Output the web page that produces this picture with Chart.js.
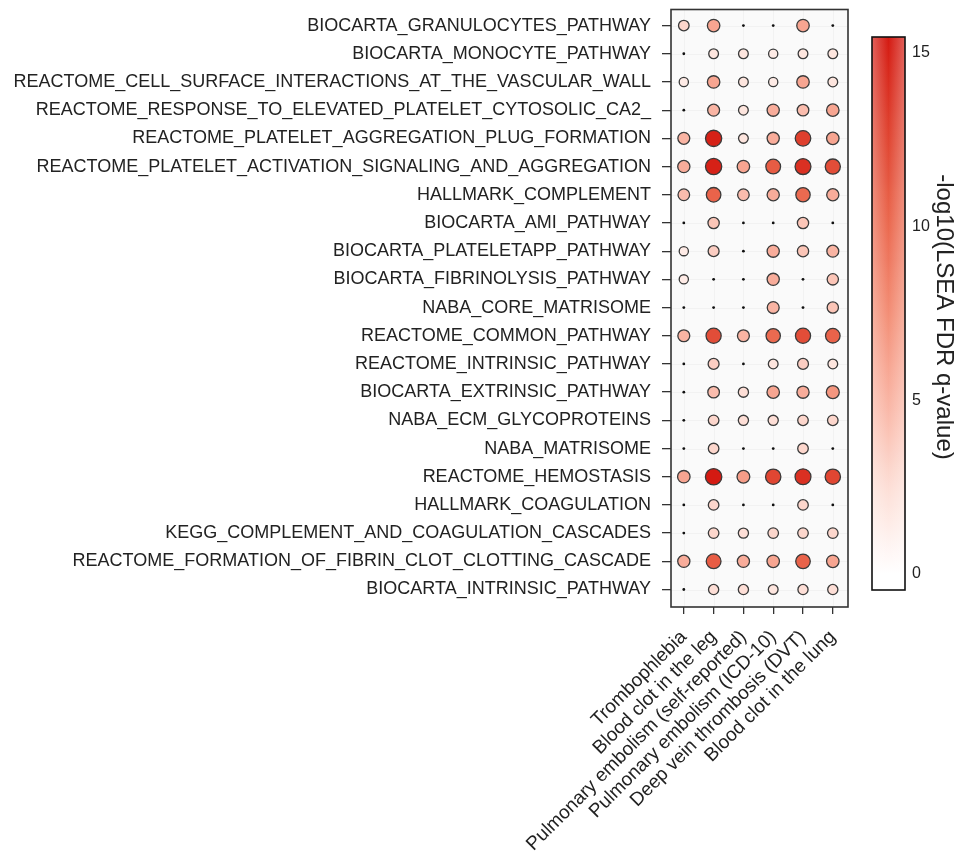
<!DOCTYPE html>
<html>
<head>
<meta charset="utf-8">
<script src="https://cdn.jsdelivr.net/npm/chart.js@4"></script>
<style>
  html, body { margin: 0; padding: 0; background: #fff; }
  #wrap { width: 963px; height: 858px; position: relative; }
</style>
</head>
<body>
<div id="wrap"><canvas id="dotChart"></canvas></div>
<script>
const pathways = [
  "BIOCARTA_GRANULOCYTES_PATHWAY",
  "BIOCARTA_MONOCYTE_PATHWAY",
  "REACTOME_CELL_SURFACE_INTERACTIONS_AT_THE_VASCULAR_WALL",
  "REACTOME_RESPONSE_TO_ELEVATED_PLATELET_CYTOSOLIC_CA2_",
  "REACTOME_PLATELET_AGGREGATION_PLUG_FORMATION",
  "REACTOME_PLATELET_ACTIVATION_SIGNALING_AND_AGGREGATION",
  "HALLMARK_COMPLEMENT",
  "BIOCARTA_AMI_PATHWAY",
  "BIOCARTA_PLATELETAPP_PATHWAY",
  "BIOCARTA_FIBRINOLYSIS_PATHWAY",
  "NABA_CORE_MATRISOME",
  "REACTOME_COMMON_PATHWAY",
  "REACTOME_INTRINSIC_PATHWAY",
  "BIOCARTA_EXTRINSIC_PATHWAY",
  "NABA_ECM_GLYCOPROTEINS",
  "NABA_MATRISOME",
  "REACTOME_HEMOSTASIS",
  "HALLMARK_COAGULATION",
  "KEGG_COMPLEMENT_AND_COAGULATION_CASCADES",
  "REACTOME_FORMATION_OF_FIBRIN_CLOT_CLOTTING_CASCADE",
  "BIOCARTA_INTRINSIC_PATHWAY"
];

const traits = [
  "Trombophlebia",
  "Blood clot in the leg",
  "Pulmonary embolism (self-reported)",
  "Pulmonary embolism (ICD-10)",
  "Deep vein thrombosis (DVT)",
  "Blood clot in the lung"
];

// -log10(LSEA FDR q-value), one array per trait, in pathway order
const trombophlebia = [3, 0, 1.5, 0, 5, 5.5, 4.5, 0, 1.5, 1.5, 0, 5, 0, 0, 0, 0, 6, 0, 0, 5.5, 0];
const clotLeg       = [6, 2, 6, 5, 15, 15, 10.5, 4, 3.5, 0, 0, 12, 3.5, 4.5, 3, 3, 15.5, 3, 3, 11, 2.5];
const peSelf        = [0, 2, 2, 2, 2, 6, 4.5, 0, 0, 0, 0, 5, 0, 2.5, 2.5, 0, 6.5, 0, 2.5, 5.5, 2.5];
const peIcd         = [0, 1.5, 1.5, 5.5, 5.5, 11, 5.5, 0, 5.5, 5.5, 5, 10, 2, 6, 2.5, 0, 12.5, 0, 3, 6, 2];
const dvt           = [6, 2, 6, 4.5, 13, 14, 10, 4, 4, 0, 0, 12, 3.5, 5.5, 3, 3, 14, 3, 3, 10.5, 2.5];
const clotLung      = [0, 2, 2, 6, 6, 12, 5.5, 0, 5, 4, 4, 10.5, 2, 7, 3, 0, 12.5, 0, 3, 6, 2.5];

const traitValues = [trombophlebia, clotLeg, peSelf, peIcd, dvt, clotLung];
const colorTicks = [0, 5, 10, 15];
const colorMax = 15.5;

const FONT = "'Liberation Sans', Arial, Helvetica, sans-serif";
// white -> red ramp (roughly what a Lab blend gives)
const RAMP = [
  [0, [255, 255, 255]],
  [2.5, [253, 222, 214]],
  [5, [249, 180, 163]],
  [7.5, [243, 142, 118]],
  [10, [235, 106, 80]],
  [12.5, [224, 70, 50]],
  [15.5, [212, 26, 18]]
];

function valueColor(v) {
  v = Math.max(0, Math.min(colorMax, v));
  for (let k = 1; k < RAMP.length; k++) {
    if (v <= RAMP[k][0]) {
      const [v0, c0] = RAMP[k - 1], [v1, c1] = RAMP[k];
      const t = (v - v0) / (v1 - v0);
      const c = c0.map((x, i) => Math.round(x + (c1[i] - x) * t));
      return `rgb(${c[0]},${c[1]},${c[2]})`;
    }
  }
  return "rgb(212,26,18)";
}

function valueRadius(v) {
  if (v <= 0) return 1.4;
  return 3 + 5.2 * Math.sqrt(v / colorMax);
}

const points = [];
traitValues.forEach((arr, j) => {
  arr.forEach((v, i) => {
    points.push({ x: j, y: i, v: v });
  });
});

// panel background, faint grid, border and the colour bar
const panelPlugin = {
  id: "panel",
  beforeDraw(chart) {
    const a = chart.chartArea;
    const ctx = chart.ctx;
    ctx.save();
    ctx.fillStyle = "#fafafa";
    ctx.fillRect(a.left, a.top, a.right - a.left, a.bottom - a.top);
    ctx.restore();
  },
  beforeDatasetsDraw(chart) {
    const a = chart.chartArea;
    const ctx = chart.ctx;
    const xs = chart.scales.x, ys = chart.scales.y;
    ctx.save();
    ctx.strokeStyle = "#f2f2f2";
    ctx.lineWidth = 1;
    for (let j = 0; j < traits.length; j++) {
      const px = Math.round(xs.getPixelForValue(j)) + 0.5;
      ctx.beginPath(); ctx.moveTo(px, a.top); ctx.lineTo(px, a.bottom); ctx.stroke();
    }
    for (let i = 0; i < pathways.length; i++) {
      const py = Math.round(ys.getPixelForValue(i)) + 0.5;
      ctx.beginPath(); ctx.moveTo(a.left, py); ctx.lineTo(a.right, py); ctx.stroke();
    }
    ctx.restore();
  },
  afterDraw(chart) {
    const a = chart.chartArea;
    const ctx = chart.ctx;
    ctx.save();
    ctx.strokeStyle = "#333";
    ctx.lineWidth = 1.6;
    ctx.strokeRect(a.left, a.top, a.right - a.left, a.bottom - a.top);

    // colour bar
    const bx = 872, bw = 33, top = 37, bottom = 590;
    const zeroY = 574, perUnit = (574 - 53) / 15;
    const g = ctx.createLinearGradient(0, zeroY, 0, zeroY - colorMax * perUnit);
    for (let k = 0; k <= 31; k++) {
      g.addColorStop(k / 31, valueColor(colorMax * k / 31));
    }
    ctx.fillStyle = "#fff";
    ctx.fillRect(bx, top, bw, bottom - top);
    ctx.fillStyle = g;
    ctx.fillRect(bx, top, bw, zeroY - top);
    // soft lighter edges like the reference bar
    const h = ctx.createLinearGradient(bx, 0, bx + bw, 0);
    h.addColorStop(0, "rgba(255,255,255,0.30)");
    h.addColorStop(0.5, "rgba(255,255,255,0)");
    h.addColorStop(1, "rgba(255,255,255,0.30)");
    ctx.fillStyle = h;
    ctx.fillRect(bx, top, bw, bottom - top);
    ctx.lineWidth = 1.6;
    ctx.strokeStyle = "#111";
    ctx.strokeRect(bx, top, bw, bottom - top);

    ctx.fillStyle = "#222";
    ctx.font = "16px " + FONT;
    ctx.textAlign = "left";
    ctx.textBaseline = "middle";
    colorTicks.forEach(t => {
      ctx.fillText(String(t), bx + bw + 7, zeroY - t * perUnit);
    });

    ctx.translate(944, 317);
    ctx.rotate(Math.PI / 2);
    ctx.textAlign = "center";
    ctx.font = "24px " + FONT;
    ctx.fillText("-log10(LSEA FDR q-value)", 0, 0);
    ctx.restore();
  }
};

new Chart(document.getElementById("dotChart").getContext("2d"), {
  type: "scatter",
  data: {
    datasets: [{
      data: points,
      pointRadius: ctx => valueRadius(ctx.raw.v),
      pointHoverRadius: ctx => valueRadius(ctx.raw.v),
      backgroundColor: ctx => ctx.raw.v <= 0 ? "#111" : valueColor(ctx.raw.v),
      borderColor: ctx => ctx.raw.v <= 0 ? "#111" : "#3a3a3a",
      borderWidth: ctx => ctx.raw.v <= 0 ? 0 : 1.3
    }]
  },
  options: {
    responsive: true,
    maintainAspectRatio: false,
    animation: false,
    layout: { padding: { top: 3, right: 115, left: 0, bottom: 0 } },
    plugins: {
      legend: { display: false },
      tooltip: { enabled: false }
    },
    scales: {
      x: {
        type: "linear",
        min: -0.43,
        max: 5.51,
        afterBuildTicks: s => { s.ticks = traits.map((t, j) => ({ value: j })); },
        afterFit: s => { s.height = 251; s.paddingLeft = 0; s.paddingRight = 0; },
        grid: { display: true, drawOnChartArea: false, tickLength: 7, tickColor: "#333", lineWidth: 1.3 },
        border: { display: false },
        ticks: {
          autoSkip: false,
          maxRotation: 45,
          minRotation: 45,
          padding: 12,
          color: "#222",
          font: { family: FONT, size: 19 },
          callback: v => traits[v]
        }
      },
      y: {
        type: "linear",
        reverse: true,
        min: -0.57,
        max: 20.62,
        afterBuildTicks: s => { s.ticks = pathways.map((p, i) => ({ value: i })); },
        afterFit: s => { s.width = 671; s.paddingTop = 0; s.paddingBottom = 0; },
        grid: { display: true, drawOnChartArea: false, tickLength: 9, tickColor: "#333", lineWidth: 1.3 },
        border: { display: false },
        ticks: {
          autoSkip: false,
          padding: 11,
          color: "#222",
          font: { family: FONT, size: 18 },
          callback: v => pathways[v]
        }
      }
    }
  },
  plugins: [panelPlugin]
});
</script>
</body>
</html>
